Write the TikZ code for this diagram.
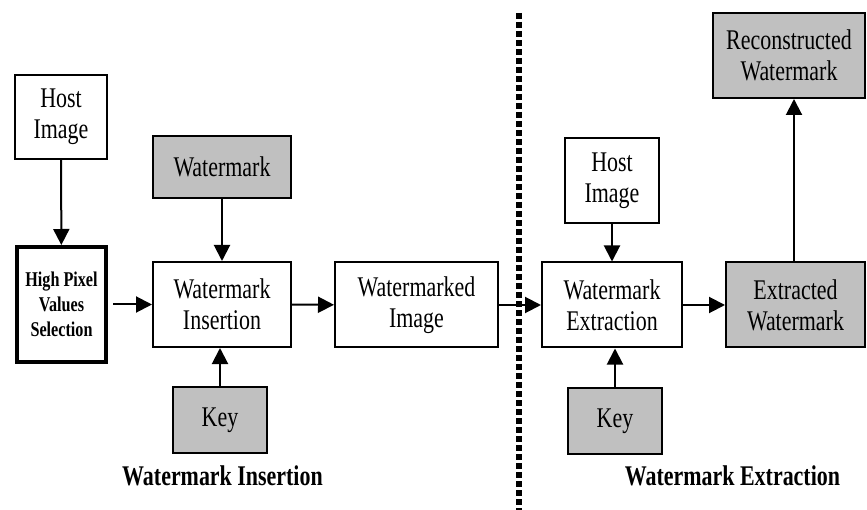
\documentclass[tikz,border=0pt]{standalone}
\usepackage{fontspec}
\setmainfont{Liberation Serif}[FakeStretch=0.77]
\usetikzlibrary{arrows.meta}
\definecolor{boxgray}{RGB}{192,192,192}
\tikzset{
  blk/.style={draw=black, line width=2pt, inner sep=0pt, align=center,
    font=\fontsize{28.5}{31}\selectfont, minimum width=#1},
  blk/.default=100pt,
  grayblk/.style={fill=boxgray},
  conn/.style={line width=2pt, -{Triangle[length=16pt,width=16pt]}},
  lbl/.style={font=\bfseries\fontsize{28.5}{31}\selectfont, inner sep=0pt}
}
\begin{document}
\begin{tikzpicture}[x=1pt,y=-1pt]
\useasboundingbox (0,0) rectangle (867,510);
% left part
\node[blk=92pt, minimum height=84pt] (host1) at (61,117) {Host\\Image};
\node[blk=89pt, minimum height=115pt, line width=4pt, font=\bfseries\fontsize{21}{25}\selectfont] (hpvs) at (61.5,304.5) {High Pixel\\Values\\Selection};
\node[blk=138pt, minimum height=62pt, grayblk] (wm) at (222,167) {Watermark};
\node[blk=138pt, minimum height=85pt] (wi) at (222,304.5) {Watermark\\Insertion};
\node[blk=94pt, minimum height=66pt, grayblk] (key1) at (220,420) {Key};
\node[blk=163pt, minimum height=85pt] (wmi) at (416.5,305) {Watermarked\\Image};
% right part
\node[blk=94pt, minimum height=85pt] (host2) at (612,180.5) {Host\\Image};
\node[blk=140pt, minimum height=85pt] (we) at (612,305) {Watermark\\Extraction};
\node[blk=94pt, minimum height=66pt, grayblk] (key2) at (615,421) {Key};
\node[blk=139pt, minimum height=85pt, grayblk] (ew) at (795.5,305) {Extracted\\Watermark};
\node[blk=152pt, minimum height=85pt, grayblk] (rw) at (789,55.5) {Reconstructed\\Watermark};
% labels
\node[lbl] (lab1) at (222.5,476) {Watermark Insertion};
\node[lbl] (lab2) at (732.5,476) {Watermark Extraction};
% divider
\coordinate (dtop) at (519,13);
\coordinate (dbot) at (519,510);
\draw[line width=6pt, dash pattern=on 6pt off 3pt] (dtop) -- (dbot);
% connectors
\draw[conn] (host1) -- (hpvs);
\draw[conn, shorten <=5pt] (hpvs) -- (wi);
\draw[conn] (wm) -- (wi);
\draw[conn] (key1.north) -- (key1.north |- wi.south);
\draw[conn] (wi) -- (wmi);
\draw[conn] (wmi) -- (we);
\draw[conn] (host2) -- (we);
\draw[conn] (key2.north) -- (key2.north |- we.south);
\draw[conn] (we) -- (ew);
\draw[conn] (ew.north -| 794,0) -- (rw.south -| 794,0);
\end{tikzpicture}
\end{document}
